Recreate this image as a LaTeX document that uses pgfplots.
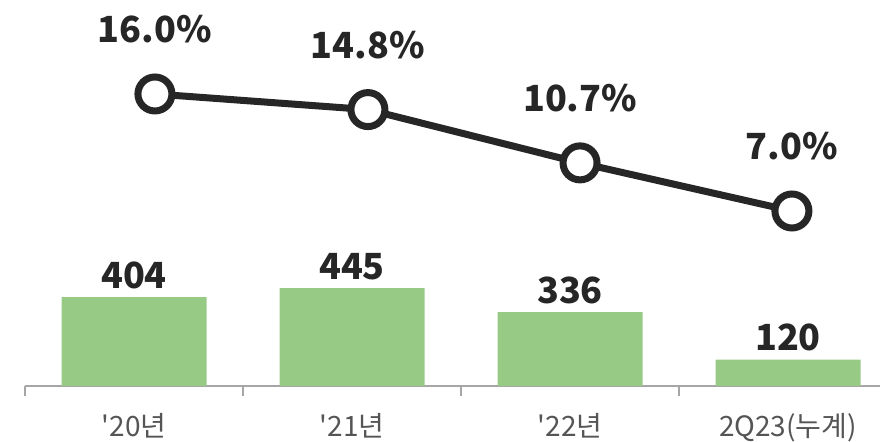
\documentclass[border=0pt]{standalone}
\usepackage{fontspec}
\setmainfont{Noto Sans CJK KR}
\usepackage{pgfplots}
\pgfplotsset{compat=1.18}
\definecolor{bargreen}{HTML}{97CB85}
\definecolor{linegray}{HTML}{262626}
\definecolor{axisgray}{HTML}{A6A6A6}
\definecolor{ticktext}{HTML}{555555}
\tikzset{vallabel/.style={font=\bfseries\fontsize{18}{18}\selectfont, text=linegray, anchor=base}}
\begin{document}
\begin{tikzpicture}
\useasboundingbox (0,0) rectangle (440pt,221pt);
\pgfplotsset{
  base/.style={
    at={(12.5pt,28pt)}, anchor=south west, scale only axis,
    width=427.5pt, height=193pt,
    xmin=-0.5, xmax=3.422,
    clip=false,
  },
}
% bars: amount
\begin{axis}[base,
  ymin=0, ymax=1754.5,
  axis x line=bottom, axis y line=none,
  axis line style={axisgray, line width=1pt, -},
  xtick={0,1,2,3},
  xticklabels={\textquotesingle20년,\textquotesingle21년,\textquotesingle22년,2Q23(누계)},
  minor xtick={-0.5,0.5,1.5,2.5},
  major tick length=0pt, minor tick length=5pt,
  tick align=outside,
  minor tick style={axisgray, line width=1pt},
  major tick style={draw=none},
  xticklabel style={font=\fontsize{14}{14}\selectfont, text=ticktext, anchor=base, yshift=-25.5pt},
]
\addplot[ybar, bar width=72.5pt, fill=bargreen, draw=none,
  nodes near coords, point meta=explicit symbolic,
  every node near coord/.append style={vallabel, yshift=4.5pt}]
  coordinates {(0,404)[404] (1,445)[445] (2,336)[336] (3,120)[120]};
\end{axis}
% line: ratio
\begin{axis}[base, ymin=-6.46, ymax=23.23, hide axis]
\addplot[linegray, line width=3.5pt, mark=*, mark size=8.5pt,
  mark options={fill=white, draw=linegray, line width=3.5pt},
  nodes near coords, point meta=explicit symbolic,
  every node near coord/.append style={vallabel, yshift=25.5pt}]
  coordinates {(0.096,16.0)[16.0\%] (1.073,14.8)[14.8\%] (2.046,10.7)[10.7\%] (3.018,7.0)[7.0\%]};
\end{axis}
\end{tikzpicture}
\end{document}
